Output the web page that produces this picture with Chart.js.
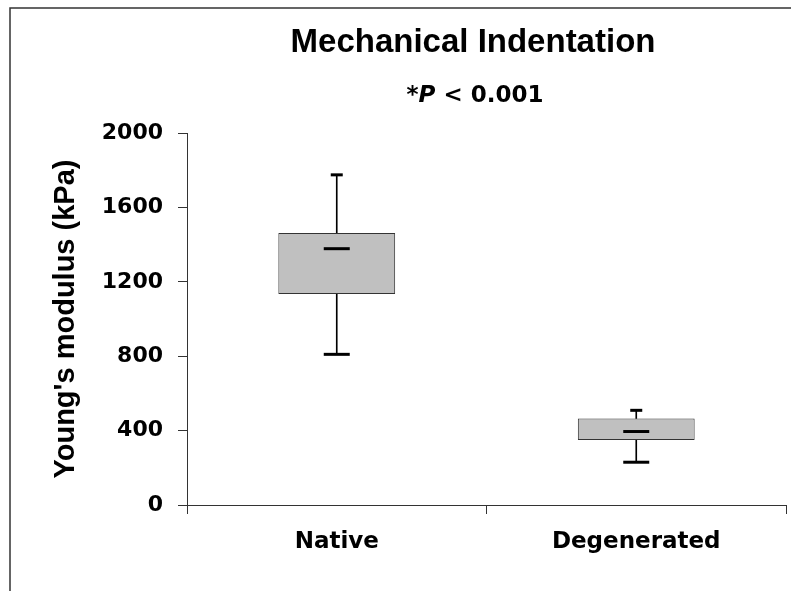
<!DOCTYPE html>
<html>
<head>
<meta charset="utf-8">
<title>Mechanical Indentation</title>
<script src="https://cdn.jsdelivr.net/npm/chart.js@4.4.0/dist/chart.umd.min.js"></script>
<style>
  html, body { margin: 0; padding: 0; background: #fff; overflow: hidden; }
  #wrap { width: 791px; height: 591px; }
  canvas { display: block; }
</style>
</head>
<body>
<div id="wrap"><canvas id="boxChart" width="791" height="591"></canvas></div>
<script>
// values (kPa)
const categories = ['Native', 'Degenerated'];
const minValues = [810, 230];
const q1Values = [1135, 350];
const medianValues = [1378, 395];
const q3Values = [1462, 465];
const maxValues = [1775, 509];
const yTicks = [0, 400, 800, 1200, 1600, 2000];

const chartTitle = 'Mechanical Indentation';
const pLabel = ['*', 'P', ' < 0.001'];

const axisColor = '#333';

// frame lines and titles
const decorations = {
  id: 'decorations',
  beforeDraw(chart) {
    const c = chart.ctx;
    c.save();
    c.strokeStyle = '#333';
    c.lineWidth = 1.5;
    c.beginPath();
    c.moveTo(10, 591);
    c.lineTo(10, 8);
    c.lineTo(791, 8);
    c.stroke();
    c.restore();
  },
  afterDraw(chart) {
    const c = chart.ctx;
    c.save();
    c.fillStyle = '#000';
    c.textBaseline = 'alphabetic';
    c.textAlign = 'center';
    c.font = 'bold 33px "Liberation Sans", Arial, sans-serif';
    c.fillText(chartTitle, 473, 52);

    const fonts = [
      'bold 23px "DejaVu Sans", sans-serif',
      'italic bold 23px "DejaVu Sans", sans-serif',
      'bold 23px "DejaVu Sans", sans-serif'
    ];
    let total = 0;
    const widths = pLabel.map((s, i) => { c.font = fonts[i]; const w = c.measureText(s).width; total += w; return w; });
    let x = 475 - total / 2;
    c.textAlign = 'left';
    pLabel.forEach((s, i) => {
      c.font = fonts[i];
      c.fillText(s, x, 102);
      x += widths[i];
    });
    c.restore();
  }
};

const ctx = document.getElementById('boxChart').getContext('2d');
const boxChart = new Chart(ctx, {
  type: 'bar',
  data: {
    labels: categories,
    datasets: [{
      label: 'upper whisker',
      data: q3Values.map((v, i) => [v, maxValues[i]]),
      backgroundColor: '#000',
      borderWidth: 0,
      barThickness: 1,
      grouped: false,
      order: 4
    }, {
      label: 'lower whisker',
      data: minValues.map((v, i) => [v, q1Values[i]]),
      backgroundColor: '#000',
      borderWidth: 0,
      barThickness: 1,
      grouped: false,
      order: 4
    }, {
      label: 'box',
      data: q1Values.map((v, i) => [v, q3Values[i]]),
      backgroundColor: '#c0c0c0',
      borderColor: '#333',
      borderWidth: 1,
      borderSkipped: false,
      categoryPercentage: 1,
      barPercentage: 0.39,
      grouped: false,
      order: 3
    }, {
      type: 'line',
      label: 'median',
      data: medianValues,
      showLine: false,
      pointStyle: 'line',
      pointRadius: 13,
      pointHoverRadius: 13,
      borderColor: '#000',
      borderWidth: 3,
      order: 1
    }, {
      type: 'line',
      label: 'max',
      data: maxValues,
      showLine: false,
      pointStyle: 'line',
      pointRadius: 6,
      pointHoverRadius: 6,
      borderColor: '#000',
      borderWidth: 3,
      order: 1
    }, {
      type: 'line',
      label: 'min',
      data: minValues,
      showLine: false,
      pointStyle: 'line',
      pointRadius: 13,
      pointHoverRadius: 13,
      borderColor: '#000',
      borderWidth: 3,
      order: 1
    }]
  },
  options: {
    responsive: false,
    animation: false,
    layout: { autoPadding: false, padding: { top: 133, right: 5, bottom: 0, left: 45 } },
    plugins: {
      legend: { display: false },
      tooltip: { enabled: false },
      title: { display: false }
    },
    scales: {
      x: {
        offset: true,
        grid: {
          offset: true,
          drawOnChartArea: false,
          tickLength: 9,
          color: axisColor
        },
        border: { display: true, color: axisColor, width: 1 },
        ticks: {
          color: '#000',
          padding: 14,
          font: { family: '"DejaVu Sans", sans-serif', weight: 'bold', size: 23 }
        },
        afterFit(scale) {
          scale.height = 86;
          scale.paddingLeft = 0;
          scale.paddingRight = 0;
        }
      },
      y: {
        min: 0,
        max: 2000,
        afterBuildTicks(scale) { scale.ticks = yTicks.map(v => ({ value: v })); },
        grid: {
          drawOnChartArea: false,
          tickLength: 9,
          color: axisColor
        },
        border: { display: true, color: axisColor, width: 1 },
        ticks: {
          color: '#000',
          padding: 15,
          callback: v => String(v),
          font: { family: '"DejaVu Sans", sans-serif', weight: 'bold', size: 22 }
        },
        title: {
          display: true,
          text: "Young's modulus (kPa)",
          color: '#000',
          padding: { top: 4, bottom: 0 },
          font: { family: '"Liberation Sans", Arial, sans-serif', weight: 'bold', size: 29 }
        },
        afterFit(scale) { scale.width = 142; }
      }
    }
  },
  plugins: [decorations]
});
</script>
</body>
</html>
